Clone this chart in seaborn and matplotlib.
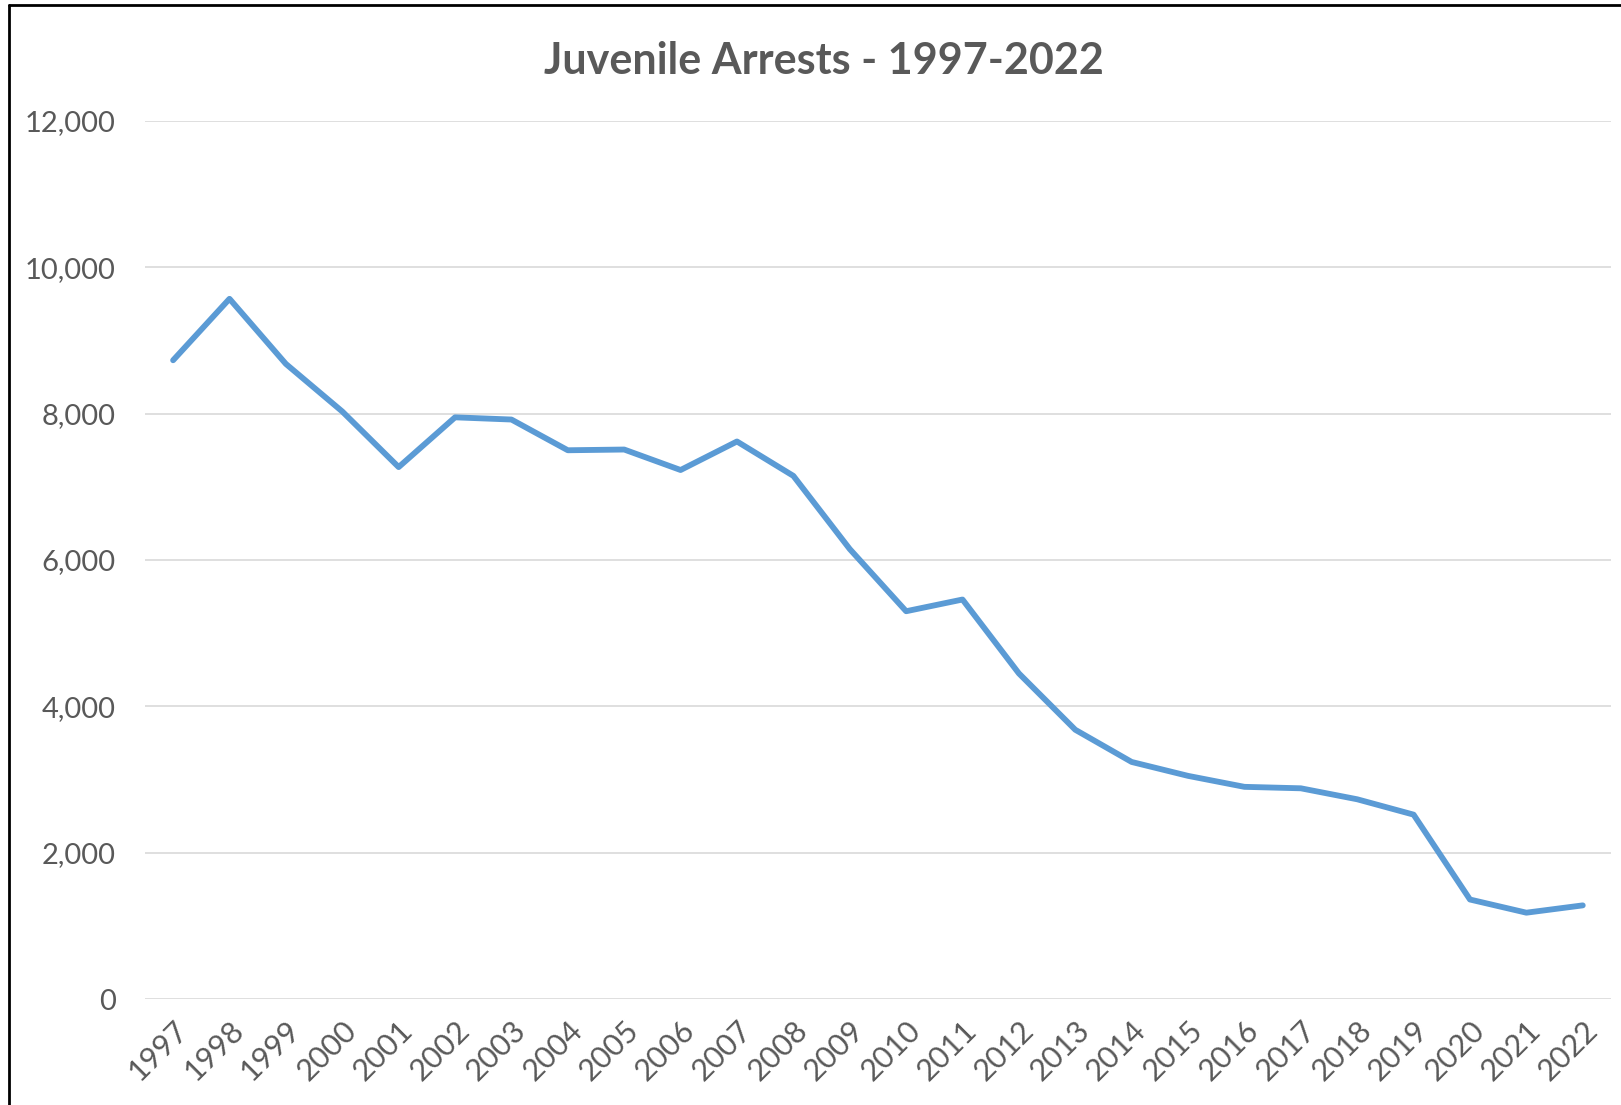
import matplotlib
matplotlib.use("Agg")
import matplotlib.pyplot as plt
from matplotlib.lines import Line2D
from matplotlib.ticker import FuncFormatter
import seaborn as sns
import pandas as pd

years = list(range(1997, 2023))
arrests = [8730, 9570, 8680, 8030, 7270, 7950, 7920, 7500, 7510, 7230,
           7620, 7150, 6150, 5300, 5460, 4450, 3680, 3240, 3050, 2900,
           2880, 2730, 2520, 1360, 1180, 1280]
y_ticks = [0, 2000, 4000, 6000, 8000, 10000, 12000]

df = pd.DataFrame({"year": years, "arrests": arrests})

sns.set_theme(style="white")
plt.rcParams["font.family"] = ["Lato", "DejaVu Sans"]

text_color = "#595959"

fig = plt.figure(figsize=(16.21, 11.05), dpi=100)
ax = fig.add_axes([0.0894, 0.0959, 0.9044, 0.7946])

sns.lineplot(data=df, x="year", y="arrests", color="#5B9BD5",
             linewidth=4.2, solid_capstyle="round", ax=ax)

ax.set_xlim(years[0] - 0.5, years[-1] + 0.5)
ax.set_ylim(0, 12000)
ax.set_yticks(y_ticks)
ax.yaxis.set_major_formatter(FuncFormatter(lambda v, p: f"{int(v):,}"))
ax.set_xticks(years)
ax.set_xticklabels([str(y) for y in years], rotation=45, ha="right",
                   rotation_mode="anchor")

ax.grid(axis="y", color="#D9D9D9", linewidth=1.2)
ax.set_axisbelow(True)
for s in ax.spines.values():
    s.set_visible(False)
ax.tick_params(axis="y", length=0, pad=21, labelsize=21, labelcolor=text_color)
ax.tick_params(axis="x", length=0, pad=12, labelsize=22, labelcolor=text_color)
ax.set_xlabel("")
ax.set_ylabel("")

fig.text(0.508, 0.945, "Juvenile Arrests - 1997-2022", ha="center", va="center",
         fontsize=31, fontweight="bold", color=text_color)

# frame lines on top and left like the source screenshot
fig.add_artist(Line2D([0.0055, 0.0055], [0, 0.9955], color="black", linewidth=2,
                      transform=fig.transFigure))
fig.add_artist(Line2D([0.0055, 1.0], [0.9955, 0.9955], color="black", linewidth=2,
                      transform=fig.transFigure))

fig.savefig("out.png", dpi=100)
